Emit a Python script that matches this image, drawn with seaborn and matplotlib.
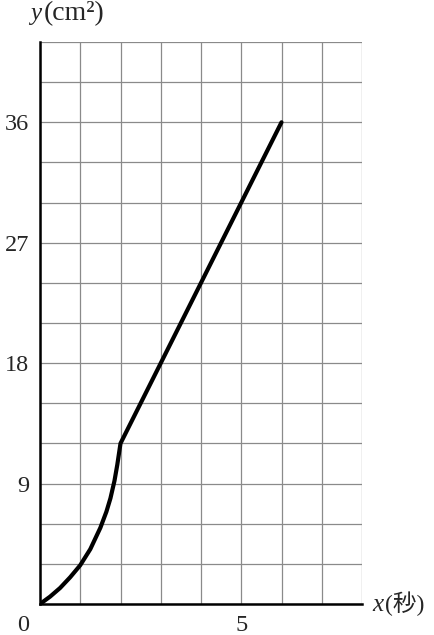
import numpy as np
import pandas as pd
import matplotlib
matplotlib.use("Agg")
import matplotlib.pyplot as plt
import seaborn as sns

# valores: x em segundos, y em cm²
tempo = [0, 0.25, 0.5, 0.75, 1.0, 1.25, 1.5, 1.65, 1.75, 1.85, 1.92, 1.97, 2.0, 6.0]
area = [0, 0.55, 1.2, 2.0, 2.9, 4.1, 5.7, 6.9, 7.9, 9.2, 10.4, 11.4, 12.0, 36.0]

x_ticks = [5]
y_ticks = [9, 18, 27, 36]
x_max = 8
y_max = 42

sns.set_style("white")
plt.rcParams["font.family"] = ["Liberation Serif", "Noto Sans CJK JP", "DejaVu Sans"]

df = pd.DataFrame({"x": tempo, "y": area})

fig = plt.figure(figsize=(4.34, 6.35), dpi=100)
ax = fig.add_axes([40 / 434, 31 / 635, 322 / 434, 562 / 635])

sns.lineplot(data=df, x="x", y="y", sort=False, color="black", linewidth=3.0,
             ax=ax, solid_joinstyle="round", solid_capstyle="round", zorder=5)

ax.set_xlim(0, x_max)
ax.set_ylim(0, y_max)
ax.set_xticks(np.arange(0, x_max + 1, 1), minor=True)
ax.set_yticks(np.arange(0, y_max + 1, 3), minor=True)
ax.set_xticks(x_ticks)
ax.set_yticks(y_ticks)
ax.set_xticklabels([str(t) for t in x_ticks])
ax.set_yticklabels([str(t) for t in y_ticks])
ax.grid(True, which="both", color="#8a8a8a", linewidth=0.9)
ax.tick_params(which="both", length=0, labelsize=17.5, pad=8)
ax.set_xlabel("")
ax.set_ylabel("")

for lado in ["top", "right"]:
    ax.spines[lado].set_visible(False)
for lado in ["left", "bottom"]:
    ax.spines[lado].set_color("black")
    ax.spines[lado].set_linewidth(1.8)
ax.set_axisbelow(True)

# rótulo da origem
ax.annotate("0", xy=(0, 0), xycoords="data", xytext=(-8, -8),
            textcoords="offset points", ha="right", va="top", fontsize=17.5)

# rótulos dos eixos
fig.text(30 / 434, 1 - 20 / 635, "y", fontsize=18, style="italic", ha="left", va="baseline")
fig.text(44 / 434, 1 - 20 / 635, "(cm²)", fontsize=20, ha="left", va="baseline")
fig.text(372 / 434, 1 - 611 / 635, "x", fontsize=18, style="italic", ha="left", va="baseline")
fig.text(385 / 434, 1 - 611 / 635, "(秒)", fontsize=17, ha="left", va="baseline",
         family=["Liberation Serif", "Noto Sans CJK JP"])

fig.savefig("out.png", dpi=100)
plt.close(fig)
